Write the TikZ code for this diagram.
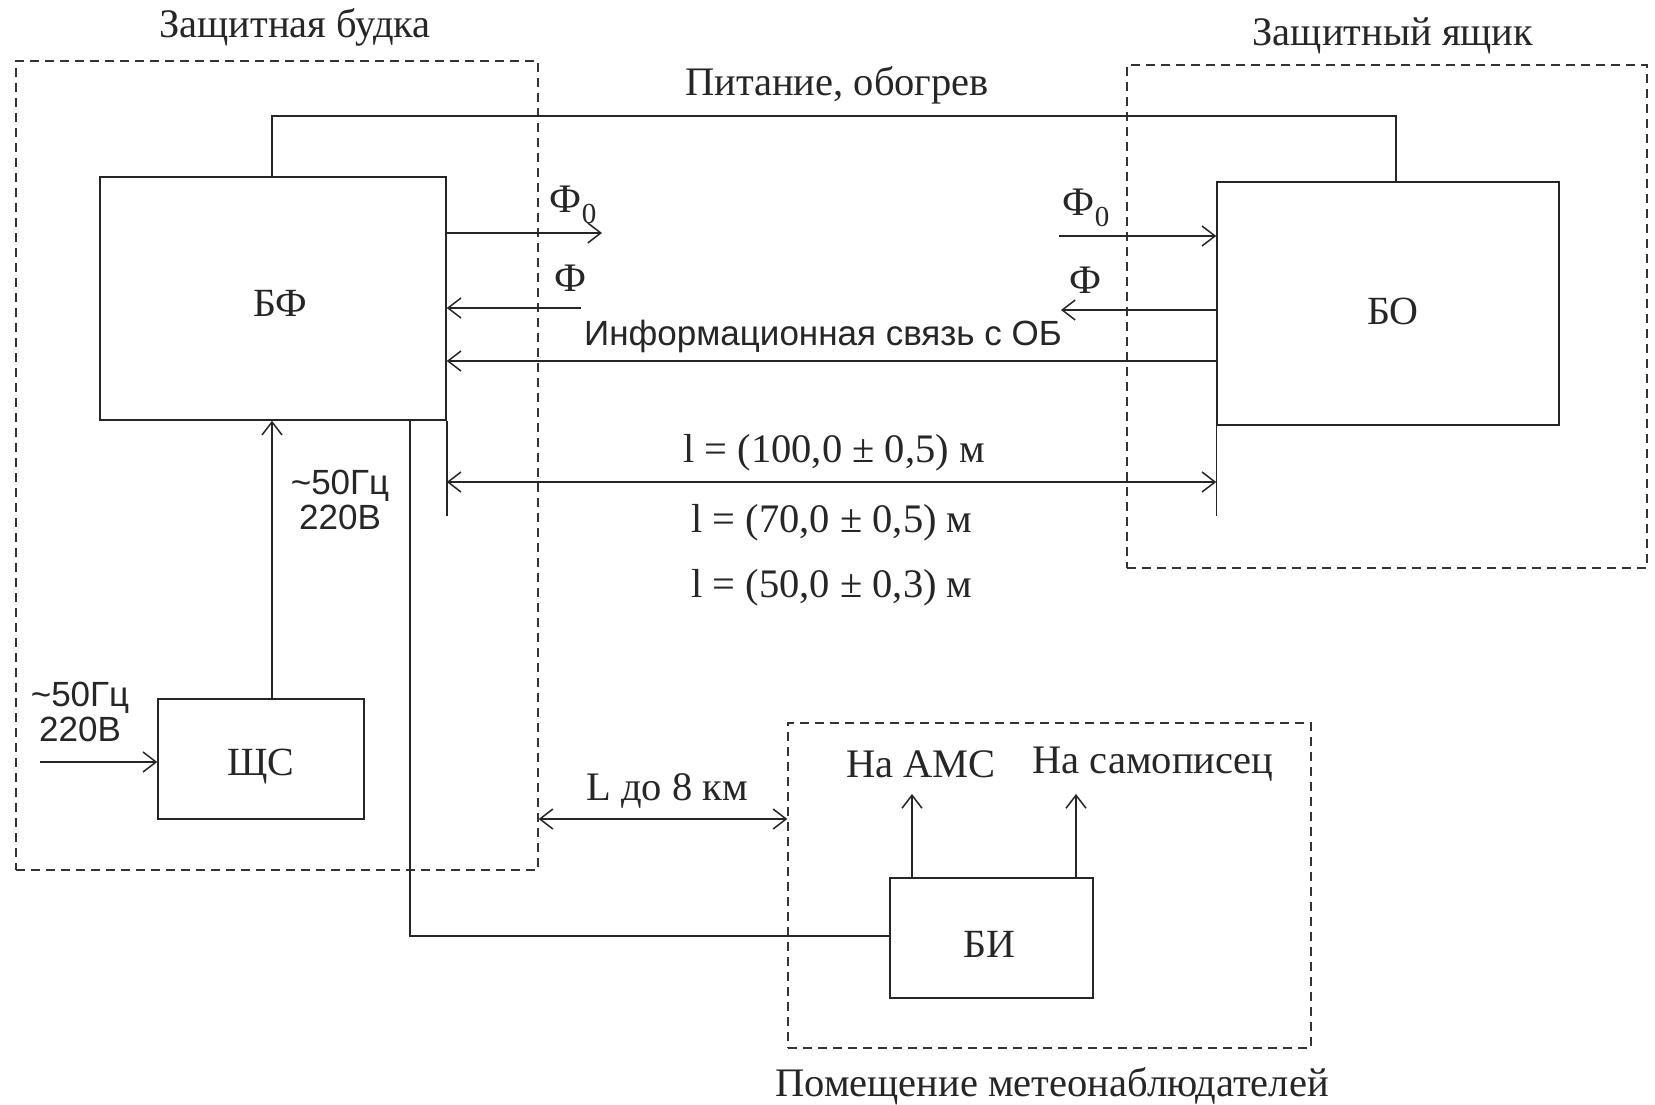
\documentclass[tikz,border=0pt]{standalone}
\usepackage{fontspec}
\setmainfont{Liberation Serif}
\setsansfont{Liberation Sans}
\usetikzlibrary{arrows.meta}
\begin{document}
\begin{tikzpicture}[x=1pt,y=-1pt,
  ln/.style={line width=1.5pt, draw=black!85},
  arr/.style={ln,-{Straight Barb[length=13pt,width=20pt,line width=1.5pt]}},
  arrb/.style={ln,{Straight Barb[length=13pt,width=20pt,line width=1.5pt]}-{Straight Barb[length=13pt,width=20pt,line width=1.5pt]}},
  blk/.style={draw=black!85, line width=1.5pt, rectangle, inner sep=0pt, font=\fontsize{40}{46}\selectfont},
  dbox/.style={draw=black!80, line width=1.3pt, dash pattern=on 9pt off 6pt, rectangle, inner sep=0pt},
  ser/.style={inner sep=0pt, font=\fontsize{40.5}{46}\selectfont, text=black!85},
  san/.style={inner sep=0pt, font=\sffamily\fontsize{35}{40}\selectfont, text=black!85, align=center}
]
\useasboundingbox[fill=white] (0,0) rectangle (1655,1105);

% dashed enclosures
\node[dbox, minimum width=522pt, minimum height=809pt] (booth) at (277,465.5) {};
\node[dbox, minimum width=520pt, minimum height=503pt] (box) at (1387,316.5) {};
\node[dbox, minimum width=523pt, minimum height=325pt] (room) at (1049.5,885.5) {};

% blocks
\node[blk, minimum width=346pt, minimum height=243pt] (BF) at (273,298.5) {};
\node[blk, minimum width=342pt, minimum height=243pt] (BO) at (1388,303.5) {};
\node[blk, minimum width=206pt, minimum height=120pt] (SC) at (261,759) {};
\node[blk, minimum width=203pt, minimum height=120pt] (BI) at (991.5,938) {};
\node[ser, font=\fontsize{40}{46}\selectfont] (lBF) at (280,303) {БФ};
\node[ser, font=\fontsize{40}{46}\selectfont] (lBO) at (1393,311) {БО};
\node[ser, font=\fontsize{40}{46}\selectfont] (lSC) at (261,767) {ЩС};
\node[ser, font=\fontsize{40}{46}\selectfont] (lBI) at (989,944) {БИ};

% titles
\node[ser] (t1) at (295,27) {Защитная будка};
\node[ser] (t2) at (1393,36) {Защитный ящик};
\node[ser] (t3) at (837,85) {Питание, обогрев};
\node[ser] (t4) at (1052,1086) {Помещение метеонаблюдателей};

% power line
\coordinate (p1) at (272,116);
\coordinate (p2) at (1396,116);
\draw[ln] (p1 |- BF.north) -- (p1) -- (p2) -- (p2 |- BO.north);

% optical signals
\coordinate (f0l) at (602,233);
\draw[arr] (f0l -| BF.east) -- (f0l);
\node[ser] (lf0l) at (573,205) {Ф\raisebox{-0.28em}{\fontsize{29}{29}\selectfont 0}};
\coordinate (fl) at (581,308);
\draw[arr] (fl) -- (fl -| BF.east);
\node[ser] (lfl) at (570,278) {Ф};
\coordinate (f0r) at (1059,236);
\draw[arr] (f0r) -- (f0r -| BO.west);
\node[ser] (lf0r) at (1086,208) {Ф\raisebox{-0.28em}{\fontsize{29}{29}\selectfont 0}};
\coordinate (fr) at (1061,310);
\draw[arr] (fr -| BO.west) -- (fr);
\node[ser] (lfr) at (1085,280) {Ф};

% info link
\coordinate (inf) at (0,361);
\draw[arr] (inf -| BO.west) -- (inf -| BF.east);
\node[san] (linf) at (823,336) {Информационная связь с ОБ};

% distance
\coordinate (dl) at (0,482);
\coordinate (ex) at (0,516);
\draw[ln] (BF.south east) -- (BF.south east |- ex);
\draw[ln] (BO.south west) -- (BO.south west |- ex);
\draw[arrb] (dl -| BF.east) -- (dl -| BO.west);
\node[ser] (d1) at (834,453) {l = (100,0 ± 0,5) м};
\node[ser] (d2) at (832,523) {l = (70,0 ± 0,5) м};
\node[ser] (d3) at (832,588) {l = (50,0 ± 0,3) м};

% mains
\coordinate (pv) at (272,0);
\draw[arr] (pv |- SC.north) -- (pv |- BF.south);
\node[san] (m1) at (340,500) {\textasciitilde50Гц\\[-5pt]220В};
\coordinate (in) at (40,762);
\draw[arr] (in) -- (in -| SC.west);
\node[san] (m2) at (80,712) {\textasciitilde50Гц\\[-5pt]220В};

% cable to BI
\coordinate (bl) at (410,936);
\draw[ln] (bl |- BF.south) -- (bl) -- (bl -| BI.west);

% L distance
\coordinate (Ly) at (0,819);
\draw[arrb] (Ly -| booth.east) -- (Ly -| room.west);
\node[ser] (lL) at (667,791) {L до 8 км};

% outputs
\coordinate (a1) at (912,794);
\coordinate (a2) at (1076,794);
\draw[arr] (a1 |- BI.north) -- (a1);
\draw[arr] (a2 |- BI.north) -- (a2);
\node[ser] (o1) at (921,764) {На АМС};
\node[ser] (o2) at (1153,764) {На самописец};
\end{tikzpicture}
\end{document}
